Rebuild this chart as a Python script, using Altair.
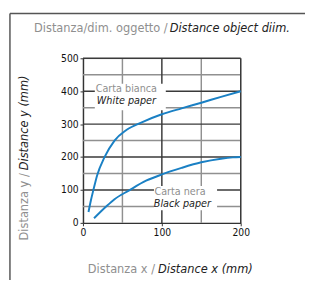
import altair as alt
import pandas as pd

# ---- data ----
white_x = [7, 10, 13, 18, 27, 40, 55, 76, 100, 125, 150, 175, 200]
white_y = [33, 68, 98, 145, 198, 250, 282, 307, 330, 348, 365, 383, 400]
black_x = [14, 29, 40, 58, 80, 101, 125, 150, 175, 190, 200]
black_y = [14, 49, 72, 98, 128, 148, 167, 184, 195, 199, 200]

x_ticks = [0, 100, 200]
y_ticks = [0, 100, 200, 300, 400, 500]
h_major = [100, 200, 300, 400, 500]
h_minor = [50, 150, 250, 350, 450]
v_major = [100, 200]
v_minor = [50, 150]

# in-plot label boxes and texts
box_x0 = [15, 90]
box_x1 = [105, 170]
box_y0 = [342, 38]
box_y1 = [423, 112]
lab_grey = ["Carta bianca", "Carta nera"]
lab_grey_x = [55, 123]
lab_grey_y = [405, 93]
lab_it = ["White paper", "Black paper"]
lab_it_x = [55, 126]
lab_it_y = [369, 58]

title_grey = "Distanza/dim. oggetto / "
title_it = "Distance object diim."
xt_grey = "Distanza x / "
xt_it = "Distance x (mm)"
yt_grey = "Distanza y / "
yt_it = "Distance y (mm)"

FONT = "DejaVu Sans Condensed, Liberation Sans Narrow, sans-serif"
BLUE = "#1a80c4"
GREY = "#8f8f8f"
DARK = "#222222"
W, H = 162, 169

curves = pd.DataFrame({
    "x": white_x + black_x,
    "y": white_y + black_y,
    "series": ["white"] * len(white_x) + ["black"] * len(black_x),
})

xs = alt.Scale(domain=[0, 200], nice=False, zero=True)
ys = alt.Scale(domain=[0, 500], nice=False, zero=True)

AX = alt.Axis(values=x_ticks, title=None)
AY = alt.Axis(values=y_ticks, title=None)

lines = alt.Chart(curves).mark_line(color=BLUE, strokeWidth=2, interpolate="monotone").encode(
    x=alt.X("x:Q", scale=xs, axis=AX),
    y=alt.Y("y:Q", scale=ys, axis=AY),
    detail="series:N",
)

hmaj = alt.Chart(pd.DataFrame({"y": h_major})).mark_rule(color="#3a3a3a", strokeWidth=1.5).encode(
    y=alt.Y("y:Q", scale=ys, axis=AY))
hmin = alt.Chart(pd.DataFrame({"y": h_minor})).mark_rule(color="#909090", strokeWidth=1.5).encode(
    y=alt.Y("y:Q", scale=ys, axis=AY))
vmaj = alt.Chart(pd.DataFrame({"x": v_major})).mark_rule(color="#3a3a3a", strokeWidth=1.5).encode(
    x=alt.X("x:Q", scale=xs, axis=AX))
vmin = alt.Chart(pd.DataFrame({"x": v_minor})).mark_rule(color="#909090", strokeWidth=1.5).encode(
    x=alt.X("x:Q", scale=xs, axis=AX))

boxes = alt.Chart(pd.DataFrame({"x0": box_x0, "x1": box_x1, "y0": box_y0, "y1": box_y1})).mark_rect(
    color="white").encode(
    x=alt.X("x0:Q", scale=xs, axis=AX), x2="x1:Q",
    y=alt.Y("y0:Q", scale=ys, axis=AY), y2="y1:Q")

t_grey = alt.Chart(pd.DataFrame({"t": lab_grey, "x": lab_grey_x, "y": lab_grey_y})).mark_text(
    font=FONT, fontSize=11, color=GREY, baseline="middle").encode(
    x=alt.X("x:Q", scale=xs, axis=AX), y=alt.Y("y:Q", scale=ys, axis=AY), text="t:N")
t_it = alt.Chart(pd.DataFrame({"t": lab_it, "x": lab_it_x, "y": lab_it_y})).mark_text(
    font=FONT, fontSize=11, color=DARK, fontStyle="italic", baseline="middle").encode(
    x=alt.X("x:Q", scale=xs, axis=AX), y=alt.Y("y:Q", scale=ys, axis=AY), text="t:N")

def txt(s, x, y, color, italic=False, align="left", angle=0):
    kw = dict(font=FONT, fontSize=13, color=color, baseline="middle", align=align)
    if italic:
        kw["fontStyle"] = "italic"
    if angle:
        kw["angle"] = angle
    return alt.Chart(pd.DataFrame({"t": [s]})).mark_text(**kw).encode(
        text="t:N", x=alt.value(x), y=alt.value(y))

deco = [
    txt(title_grey, 87, -31, GREY, align="right"),
    txt(title_it, 89, -31, DARK, italic=True, align="left"),
    txt(xt_grey, 74, 216, GREY, align="right"),
    txt(xt_it, 77, 216, DARK, italic=True, align="left"),
    txt(yt_grey, -60, 118, GREY, align="right", angle=270),
    txt(yt_it, -60, 115, DARK, italic=True, align="left", angle=270),
]

frame_l = alt.Chart(pd.DataFrame({"a": [0]})).mark_rule(color="#555", strokeWidth=1.5).encode(
    x=alt.value(-75), y=alt.value(-46), y2=alt.value(230))
frame_t = alt.Chart(pd.DataFrame({"a": [0]})).mark_rule(color="#555", strokeWidth=1.5).encode(
    x=alt.value(-75), x2=alt.value(240), y=alt.value(-46))

chart = alt.layer(hmin, vmin, hmaj, vmaj, boxes, lines, t_grey, t_it, *deco, frame_l, frame_t).properties(
    width=W, height=H,
    autosize=alt.AutoSizeParams(type="none"),
    padding={"left": 77, "top": 48, "right": 66, "bottom": 55},
).configure_view(stroke=None).configure(background="white").configure_axis(
    grid=False, domainColor="#333", domainWidth=1.5, tickColor="#333", tickSize=3,
    labelPadding=2, labelFontSize=10.5, labelColor="#111", labelFont=FONT,
    labelFlush=False, labelOverlap=False,
)

chart.save("out.html", embed_options={"renderer": "svg", "actions": False})
